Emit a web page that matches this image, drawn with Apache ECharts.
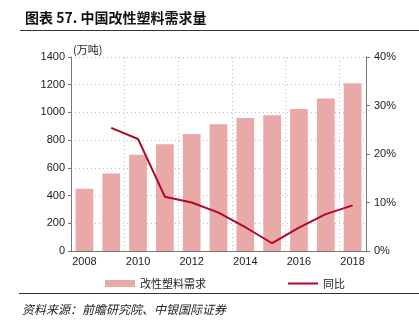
<!DOCTYPE html>
<html><head><meta charset="utf-8">
<script src="https://cdn.jsdelivr.net/npm/echarts@6/dist/echarts.min.js"></script>
<style>html,body{margin:0;padding:0;background:#fff}#c{width:419px;height:331px}</style>
</head><body><div id="c"></div>
<script>
const years = ['2008','2009','2010','2011','2012','2013','2014','2015','2016','2017','2018'];
const demand = [450, 560, 695, 770, 845, 915, 960, 980, 1025, 1100, 1210];
const yoy = [null, 25.4, 23.1, 11.2, 10.0, 7.9, 4.9, 1.6, 4.8, 7.6, 9.4];

const chart = echarts.init(document.getElementById('c'), null, {renderer: 'canvas'});
const lab = {color: '#222', fontSize: 11, fontFamily: 'Liberation Sans, Arial, sans-serif'};
chart.setOption({
  animation: false,
  title: {
    text: '图表 57. 中国改性塑料需求量', left: 20, top: 6,
    textStyle: {fontSize: 14, fontWeight: 'bold', color: '#111', fontFamily: 'Noto Sans CJK SC'}
  },
  graphic: [
    {type: 'line', shape: {x1: 20, y1: 30.5, x2: 419, y2: 30.5}, style: {stroke: '#333', lineWidth: 1}},
    {type: 'line', shape: {x1: 19, y1: 293.5, x2: 419, y2: 293.5}, style: {stroke: '#333', lineWidth: 1}},
    {type: 'text', left: 22, top: 303, style: {text: '资料来源：前瞻研究院、中银国际证券', fill: '#222', font: 'italic 12px "Noto Sans CJK SC"'}}
  ],
  legend: [
    {data: [{name: '改性塑料需求', icon: 'rect'}], left: 100, top: 273, itemWidth: 30, itemHeight: 7, itemGap: 6,
     textStyle: {fontSize: 11, color: '#222', fontFamily: 'Noto Sans CJK SC'}},
    {data: [{name: '同比', icon: 'rect'}], left: 283, top: 273, itemWidth: 30, itemHeight: 2,
     textStyle: {fontSize: 11, color: '#222', fontFamily: 'Noto Sans CJK SC'}}
  ],
  grid: {left: 71, right: 53, top: 57, bottom: 80},
  xAxis: {
    type: 'category', data: years, boundaryGap: true,
    axisLine: {lineStyle: {color: '#777'}},
    axisTick: {interval: 1, length: 4, lineStyle: {color: '#777'}},
    axisLabel: Object.assign({interval: 1, margin: 5}, lab),
    splitLine: {show: true, interval: 1, lineStyle: {type: [1, 3], color: '#bbb'}}
  },
  yAxis: [
    {type: 'value', min: 0, max: 1400, interval: 200,
     name: '(万吨)', nameLocation: 'end', nameGap: 2,
     nameTextStyle: {fontSize: 11, color: '#222', align: 'left', padding: [0, 0, 0, 2], fontFamily: 'Noto Sans CJK SC'},
     axisLine: {show: true, lineStyle: {color: '#777'}},
     axisTick: {show: true, length: 3, lineStyle: {color: '#777'}},
     axisLabel: Object.assign({margin: 6, formatter: v => String(v)}, lab),
     splitLine: {lineStyle: {type: [1, 3], color: '#bbb'}}},
    {type: 'value', min: 0, max: 40, interval: 10, position: 'right',
     axisLine: {show: true, lineStyle: {color: '#777'}},
     axisTick: {show: true, length: 4, lineStyle: {color: '#777'}},
     axisLabel: Object.assign({margin: 8, formatter: '{value}%'}, lab),
     splitLine: {show: false}}
  ],
  series: [
    {name: '改性塑料需求', type: 'bar', data: demand, barCategoryGap: '34%',
     itemStyle: {color: '#e8a9a8'}},
    {name: '同比', type: 'line', yAxisIndex: 1, data: yoy, symbol: 'none',
     lineStyle: {color: '#b0072a', width: 2}, itemStyle: {color: '#b0072a'}}
  ]
});
</script></body></html>
